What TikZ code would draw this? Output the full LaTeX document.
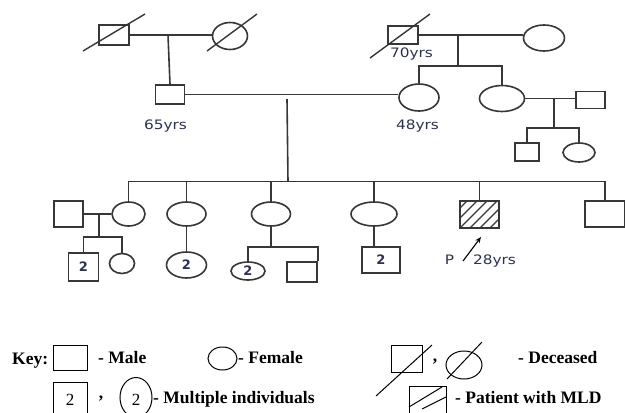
\documentclass[tikz,border=0pt]{standalone}
\usepackage{fontspec}
\usetikzlibrary{shapes.geometric,arrows.meta}
\newfontfamily\lblfont[FakeStretch=1.18]{DejaVu Sans}
\newfontfamily\numfont{DejaVu Sans}
\newfontfamily\keyfont{Liberation Serif}
\definecolor{lc}{RGB}{55,55,55}
\definecolor{tc}{RGB}{45,50,80}
\begin{document}
\begin{tikzpicture}[x=1pt,y=-1pt,
  ln/.style={draw=lc,line width=1.6pt},
  dln/.style={draw=lc,line width=1.4pt},
  sq/.style 2 args={draw=lc,line width=1.6pt,rectangle,inner sep=0pt,minimum width=#1pt,minimum height=#2pt,font=\numfont\bfseries\fontsize{13}{15}\selectfont,text=tc},
  el/.style 2 args={draw=lc,line width=1.6pt,ellipse,inner sep=0pt,minimum width=#1pt,minimum height=#2pt,font=\numfont\bfseries\fontsize{13}{15}\selectfont,text=tc},
  ksq/.style 2 args={draw=black,line width=1pt,rectangle,inner sep=0pt,minimum width=#1pt,minimum height=#2pt},
  kel/.style 2 args={draw=black,line width=1pt,ellipse,inner sep=0pt,minimum width=#1pt,minimum height=#2pt},
  lbl/.style={font=\lblfont\fontsize{13}{15}\selectfont,text=tc,inner sep=0pt,anchor=base},
  keytxt/.style={font=\keyfont\bfseries\fontsize{17.5}{20}\selectfont,inner sep=0pt,anchor=base west},
  keynum/.style={font=\keyfont\fontsize{17}{20}\selectfont,inner sep=0pt,anchor=base},
]
\fill[white] (0,0) rectangle (625,413);
\useasboundingbox (0,0) rectangle (625,413);

% ---------- Generation I ----------
\node[sq={30}{20}] (gA) at (114,35) {};
\node[el={35}{27}] (gB) at (230,36) {};
\draw[dln] (gA.center) +(-31,16) -- +(31,-21);
\draw[dln] (gB.center) +(-23,15) -- +(27,-22);
\node[sq={30}{18}] (gC) at (403,35) {};
\node[el={41}{26}] (gD) at (544,38) {};
\draw[dln] (gC.center) +(-33,23) -- +(27,-21);
\node[lbl] (l70) at (411.5,57) {70yrs};

% ---------- Generation II ----------
\node[sq={29}{19}] (m65) at (170,94.5) {};
\node[el={40}{27}] (f48) at (419,97.5) {};
\node[el={45}{26}] (aunt) at (502,98.5) {};
\node[sq={29}{17}] (uncle) at (590.5,100) {};
\node[lbl] (l65) at (165.5,129) {65yrs};
\node[lbl] (l48) at (417.5,129) {48yrs};
\node[sq={24}{18}] (cz1) at (527,152) {};
\node[el={32}{19}] (cz2) at (579,152.5) {};

\coordinate (mA) at (168,35);
\coordinate (mC) at (458,35);
\coordinate (sC) at (458,66);
\coordinate (mD) at (554,98.5);
\coordinate (sD) at (554,128);
\coordinate (tA) at (287,99);
\coordinate (sib) at (288,181.5);

\draw[ln] (gA.east) -- (gA.east -| gB.west);
\draw[ln] (mA) -- (m65.north);
\draw[ln] (gC.east) -- (gC.east -| gD.west);
\draw[ln] (mC) -- (sC);
\draw[ln] (f48.north) |- (sC) -| (aunt.north);
\draw[ln] (m65.east) -- (m65.east -| f48.west);
\draw[ln] (aunt.east) -- (aunt.east -| uncle.west);
\draw[ln] (mD) -- (sD);
\draw[ln] (cz1.north) |- (sD) -| (cz2.north);

% ---------- Generation III ----------
\node[sq={29}{26}] (sp1) at (68.5,214) {};
\node[el={33}{24}] (c1) at (128.5,214) {};
\node[el={39}{24}] (c2) at (186.5,214) {};
\node[el={39}{24}] (c3) at (271,214) {};
\node[el={46}{24}] (c4) at (374,214) {};
\node[sq={39}{27}] (pat) at (479.5,214.5) {};
\node[sq={40}{26}] (b6) at (605,214) {};

\begin{scope}
  \clip (pat.south west) rectangle (pat.north east);
  \foreach \x in {440,450,...,500}
    \draw[draw=lc,line width=1.1pt] (\x,228) -- (\x+27,201);
\end{scope}
\node[sq={39}{27}] at (pat.center) {};

\draw[ln] (tA) -- (sib);
\draw[ln] (c1.north) |- (b6.north |- sib) -- (b6.north);
\draw[ln] (c2.north) -- (c2.north |- sib);
\draw[ln] (c3.north) -- (c3.north |- sib);
\draw[ln] (c4.north) -- (c4.north |- sib);
\draw[ln] (pat.north) -- (pat.north |- sib);

% ---------- Generation IV ----------
\node[sq={30}{28}] (n1a) at (83.5,267) {2};
\node[el={25}{20}] (n1b) at (122,263.5) {};
\node[el={40}{26}] (n2) at (186.5,265) {2};
\node[el={34}{18}] (n3a) at (248,271) {2};
\node[sq={30}{20}] (n3b) at (302,272) {};
\node[sq={38}{26}] (n4) at (381,260) {2};

\coordinate (m1) at (99,214);
\coordinate (s1) at (99,237);
\coordinate (s3) at (271,247);
\draw[ln] (sp1.east) -- (c1.west);
\draw[ln] (m1) -- (s1);
\draw[ln] (n1a.north) |- (s1) -| (n1b.north);
\draw[ln] (c2.south) -- (n2.north);
\draw[ln] (c3.south) -- (s3);
\draw[ln] (n3a.north) |- (s3) -| (n3b.north east);
\draw[ln] (c4.south) -- (c4.south |- n4.north);

% proband
\node[lbl] (lP) at (449.5,264) {P};
\node[lbl] (l28) at (494.5,264) {28yrs};
\coordinate (arT) at (463,261);
\coordinate (arH) at (481,237);
\draw[-{Stealth[length=6pt,width=5pt]},line width=1.1pt,black] (arT) -- (arH);

% ---------- Key ----------
\node[keytxt] (kKey) at (12,364) {Key:};
\node[ksq={34}{25}] (kmale) at (70,357.5) {};
\node[keytxt] (tmale) at (98,363) {- Male};
\node[kel={29}{23}] (kfem) at (222.5,358.5) {};
\node[keytxt] (tfem) at (238,363) {- Female};
\node[ksq={31}{27}] (kdsq) at (406.5,358.5) {};
\draw[black,line width=1pt] (kdsq.center) +(-30.5,37.5) -- +(25.5,-13.5);
\node[keytxt,anchor=base] (kc1) at (435,361) {,};
\node[kel={36}{28}] (kdci) at (464,365) {};
\draw[black,line width=1pt] (kdci.center) +(-17,14) -- +(18,-23);
\node[keytxt] (tdec) at (518,363) {- Deceased};

\node[ksq={34}{38}] (k2sq) at (70,401.5) {};
\node[keynum] (k2a) at (70,405) {2};
\node[keytxt,anchor=base] (kc2) at (101,398) {,};
\node[kel={32}{40}] (k2ci) at (136,397.5) {};
\node[keynum] (k2b) at (136,405) {2};
\node[keytxt] (tmul) at (153,403) {- Multiple individuals};
\node[ksq={37}{36}] (kpat) at (427.5,404) {};
\draw[black,line width=1pt] (409,407) -- (442,387);
\draw[black,line width=1pt] (422,409) -- (446,397);
\node[keytxt] (tpat) at (455,403) {- Patient with MLD};
\end{tikzpicture}
\end{document}
